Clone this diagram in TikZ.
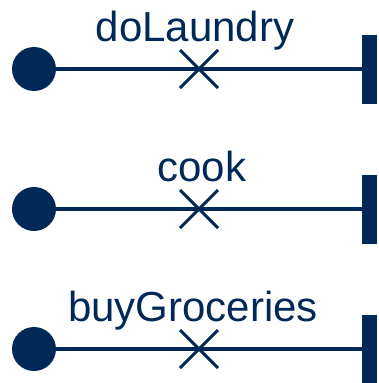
\documentclass[tikz,border=0pt]{standalone}
\usepackage{fontspec}
\setmainfont{Liberation Sans}
\usetikzlibrary{calc}
\definecolor{navy}{RGB}{0,41,87}
\tikzset{
  startdot/.style={circle,fill=navy,draw=none,minimum size=44pt,inner sep=0pt},
  endbar/.style={rectangle,fill=navy,draw=none,minimum width=15pt,minimum height=69pt,inner sep=0pt},
  lifeline/.style={draw=navy,line width=4pt},
  crossmark/.style={draw=navy,line width=3pt},
  label/.style={text=navy,inner sep=0pt,anchor=base,font=\fontsize{42}{48}\selectfont}
}
\begin{document}
\begin{tikzpicture}[x=1pt,y=-1pt]
\useasboundingbox (0,0) rectangle (379,383);
\begin{scope}
\clip (0,0) rectangle (379,383);
\foreach \i/\name/\txt/\tx in {0/a/doLaundry/195,1/b/cook/202,2/c/buyGroceries/193}{
  \pgfmathsetmacro{\yy}{69+140*\i}
  \node[startdot] (s\name) at (34,\yy) {};
  \node[endbar] (e\name) at (369,\yy) {};
  \draw[lifeline] (s\name.center) -- (e\name.center);
  \coordinate (m\name) at (199,\yy);
  \draw[crossmark] ($(m\name)+(-19,-19)$) -- ($(m\name)+(19,19)$);
  \draw[crossmark] ($(m\name)+(-19,19)$) -- ($(m\name)+(19,-19)$);
  \node[label] (t\name) at (\tx,\yy-28) {\txt};
}
\end{scope}
\end{tikzpicture}
\end{document}
